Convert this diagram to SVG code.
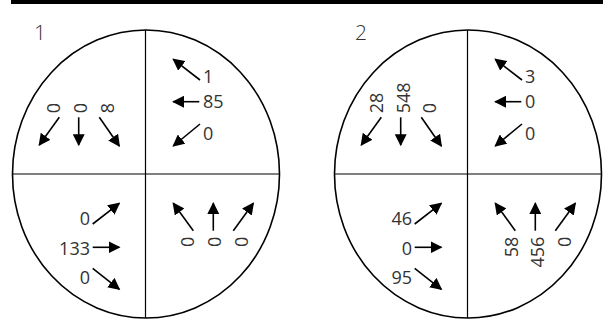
<svg xmlns="http://www.w3.org/2000/svg" width="603" height="321" viewBox="0 0 603 321">
<defs>
<marker id="ah" markerUnits="userSpaceOnUse" markerWidth="12" markerHeight="12" viewBox="0 0 10 10" refX="9" refY="5" orient="auto">
<path d="M0,0 L10,5 L0,10 Z" fill="#000"/>
</marker>
<style>
.frame{fill:none;stroke:#000;stroke-width:1.6}
.cross{stroke:#000;stroke-width:1.2}
.arr{stroke:#000;stroke-width:1.6;marker-end:url(#ah)}
text{font-family:"Open Sans","Liberation Sans",sans-serif;font-size:18px;fill:#333}
.num{font-size:21px;font-weight:300}
.e{text-anchor:end}
</style>
</defs>
<rect x="11" y="0" width="592" height="4" fill="#000"/>
<g id="diagram1">
<text class="num" x="34" y="40">1</text>
<ellipse class="frame" cx="146" cy="174" rx="133.5" ry="144"/>
<line class="cross" x1="12.5" y1="174" x2="279.5" y2="174"/>
<line class="cross" x1="145.5" y1="30" x2="145.5" y2="318"/>
</g>
<g id="diagram2">
<text class="num" x="355" y="40">2</text>
<ellipse class="frame" cx="468" cy="174" rx="133.5" ry="144"/>
<line class="cross" x1="334.5" y1="174" x2="601.5" y2="174"/>
<line class="cross" x1="467.5" y1="30" x2="467.5" y2="318"/>
</g>
<g id="labels1">
<text transform="translate(60,113.3) rotate(-90)">0</text>
<text transform="translate(87,113.3) rotate(-90)">0</text>
<text transform="translate(114,113.3) rotate(-90)">8</text>
<text x="203" y="82.7">1</text>
<text x="203" y="108">85</text>
<text x="203" y="140">0</text>
<text class="e" x="90" y="225">0</text>
<text class="e" x="90" y="255">133</text>
<text class="e" x="90" y="284">0</text>
<text class="e" transform="translate(194,236.7) rotate(-90)">0</text>
<text class="e" transform="translate(221,236.7) rotate(-90)">0</text>
<text class="e" transform="translate(247.7,236.7) rotate(-90)">0</text>
</g>
<g id="labels2">
<text transform="translate(382.7,113.3) rotate(-90)">28</text>
<text transform="translate(410,113.3) rotate(-90)">548</text>
<text transform="translate(436,113.3) rotate(-90)">0</text>
<text x="525" y="82.7">3</text>
<text x="525" y="108">0</text>
<text x="525" y="140">0</text>
<text class="e" x="412" y="225">46</text>
<text class="e" x="412" y="255">0</text>
<text class="e" x="412" y="284">95</text>
<text class="e" transform="translate(518,236.7) rotate(-90)">58</text>
<text class="e" transform="translate(544,236.7) rotate(-90)">456</text>
<text class="e" transform="translate(570.5,236.7) rotate(-90)">0</text>
</g>
<g id="connectors">
<line class="arr" x1="59.3" y1="117.3" x2="39.3" y2="145"/>
<line class="arr" x1="78.7" y1="117.3" x2="78.7" y2="145"/>
<line class="arr" x1="99.3" y1="117.3" x2="119.3" y2="146"/>
<line class="arr" x1="200" y1="80" x2="173.3" y2="59.3"/>
<line class="arr" x1="199.3" y1="101.7" x2="173.3" y2="101.7"/>
<line class="arr" x1="200" y1="124" x2="173.3" y2="146"/>
<line class="arr" x1="92.7" y1="224" x2="119.3" y2="203.3"/>
<line class="arr" x1="92.7" y1="247.3" x2="119.3" y2="247.3"/>
<line class="arr" x1="92.7" y1="268.3" x2="119.3" y2="289.3"/>
<line class="arr" x1="193.3" y1="230.7" x2="173.3" y2="203.3"/>
<line class="arr" x1="213.3" y1="230.7" x2="213.3" y2="203.3"/>
<line class="arr" x1="233.3" y1="230.7" x2="253.3" y2="203.3"/>
<line class="arr" x1="381.3" y1="117.3" x2="361.3" y2="145"/>
<line class="arr" x1="400.7" y1="117.3" x2="400.7" y2="145"/>
<line class="arr" x1="421.3" y1="117.3" x2="441.3" y2="146"/>
<line class="arr" x1="522" y1="80" x2="495.3" y2="59.3"/>
<line class="arr" x1="521.3" y1="101.7" x2="495.3" y2="101.7"/>
<line class="arr" x1="522" y1="124" x2="495.3" y2="146"/>
<line class="arr" x1="414.7" y1="224" x2="441.3" y2="203.3"/>
<line class="arr" x1="414.7" y1="247.3" x2="441.3" y2="247.3"/>
<line class="arr" x1="414.7" y1="268.3" x2="441.3" y2="289.3"/>
<line class="arr" x1="515.3" y1="230.7" x2="495.3" y2="203.3"/>
<line class="arr" x1="535.3" y1="230.7" x2="535.3" y2="203.3"/>
<line class="arr" x1="555.3" y1="230.7" x2="575.3" y2="203.3"/>
</g>
</svg>
